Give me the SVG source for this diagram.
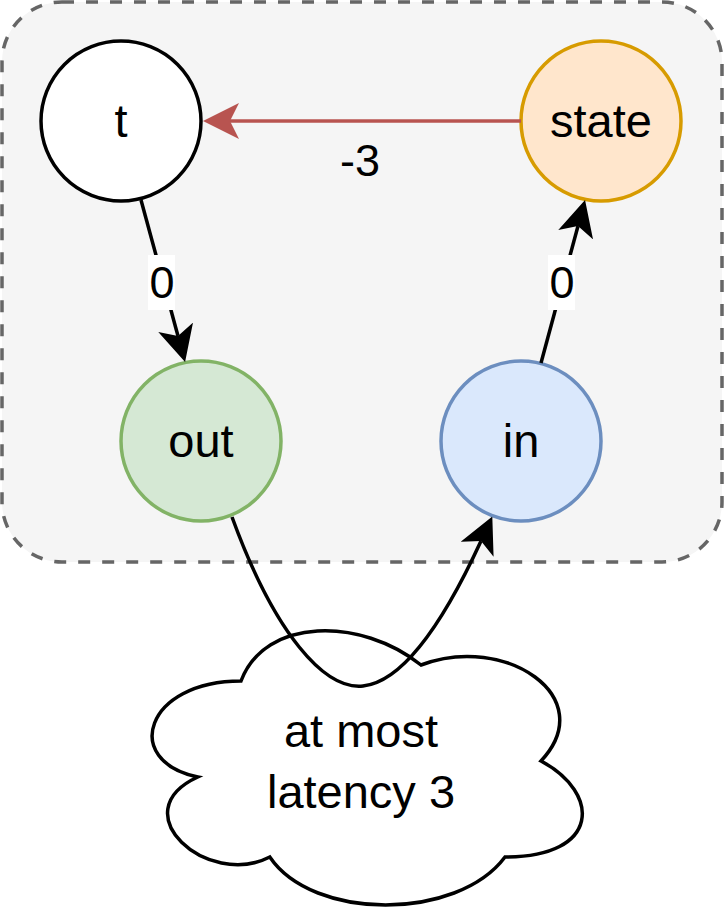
<svg xmlns="http://www.w3.org/2000/svg" width="724" height="924" viewBox="0 0 724 924">
<style>
  .node { stroke-width: 3.5; }
  .lbl { font-family: "Liberation Sans", Arial, sans-serif; font-size: 47px; fill: #000; text-anchor: middle; }
  .elbl { font-family: "Liberation Sans", Arial, sans-serif; font-size: 45px; fill: #000; text-anchor: middle; }
  .edge { fill: none; stroke: #000; stroke-width: 3.5; }
</style>
<defs>
  <marker id="ah" viewBox="0 0 36 36" refX="9" refY="18" markerWidth="36" markerHeight="36" markerUnits="userSpaceOnUse" orient="auto">
    <path d="M0,0 L36,18 L0,36 L9,18 Z" fill="#000"/>
  </marker>
  <marker id="ahr" viewBox="0 0 36 36" refX="9" refY="18" markerWidth="36" markerHeight="36" markerUnits="userSpaceOnUse" orient="auto">
    <path d="M0,0 L36,18 L0,36 L9,18 Z" fill="#b85450"/>
  </marker>
</defs>
<rect x="0" y="0" width="724" height="924" fill="#fff"/>
<g id="container">
  <rect x="2" y="2" width="720" height="560" rx="60" ry="60" fill="#f5f5f5" stroke="#666666" stroke-width="3.5" stroke-dasharray="12 12"/>
</g>
<g id="node-t">
  <circle class="node" cx="121" cy="121" r="80" fill="#ffffff" stroke="#000000"/>
  <text class="lbl" x="121" y="137">t</text>
</g>
<g id="node-state">
  <circle class="node" cx="601" cy="121" r="80" fill="#ffe6cc" stroke="#d79b00"/>
  <text class="lbl" x="601" y="137">state</text>
</g>
<g id="node-out">
  <circle class="node" cx="201" cy="441" r="80" fill="#d5e8d4" stroke="#82b366"/>
  <text class="lbl" x="201" y="457">out</text>
</g>
<g id="node-in">
  <circle class="node" cx="521" cy="441" r="80" fill="#dae8fc" stroke="#6c8ebf"/>
  <text class="lbl" x="521" y="457">in</text>
</g>
<g id="node-cloud">
  <path d="M241,681 C145,681 121,761 197.8,777 C121,812.2 207.4,889 269.8,857 C313,921 457,921 505,857 C601,857 601,793 541,761 C601,697 505,633 421,665 C361,617 265,617 241,681 Z" fill="#ffffff" stroke="#000000" stroke-width="3.5"/>
  <text class="lbl" x="361" y="747">at most</text>
  <text class="lbl" x="361" y="808">latency 3</text>
</g>
<g id="connectors">
  <line x1="521" y1="121" x2="230" y2="121" stroke="#b85450" stroke-width="3.5" marker-end="url(#ahr)"/>
  <text class="elbl" x="360" y="176">-3</text>
  <line class="edge" x1="141" y1="200" x2="178" y2="336" marker-end="url(#ah)"/>
  <rect x="148" y="255" width="27" height="55" fill="#ffffff"/>
  <text class="elbl" x="162" y="298">0</text>
  <line class="edge" x1="541" y1="363" x2="578" y2="226" marker-end="url(#ah)"/>
  <rect x="548" y="255" width="27" height="55" fill="#ffffff"/>
  <text class="elbl" x="562" y="298">0</text>
  <path class="edge" d="M232,517 C275,635 325,690 363,686 C400,682 440,630 481,541" marker-end="url(#ah)"/>
</g>
</svg>
